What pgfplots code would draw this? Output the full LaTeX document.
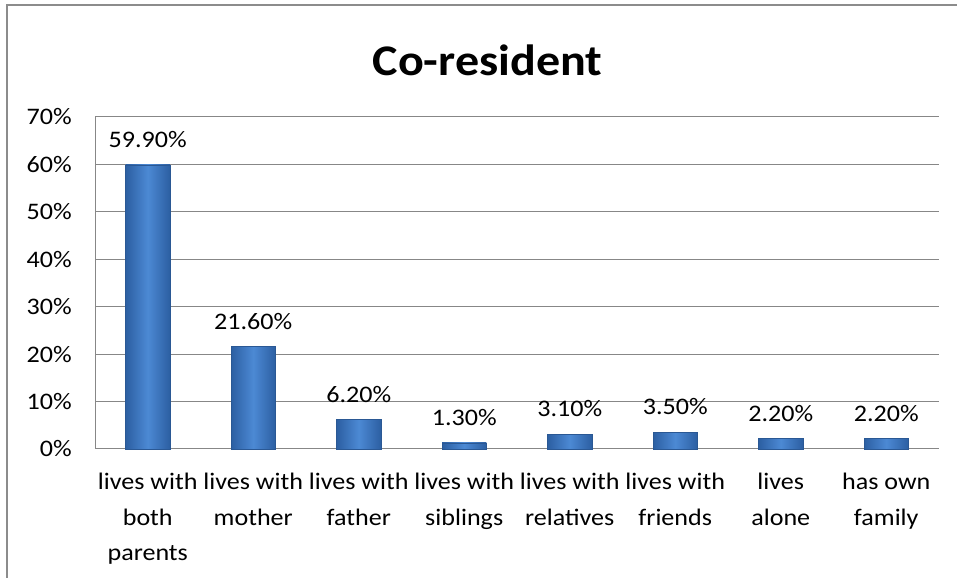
\documentclass[border=0pt]{standalone}
\usepackage{fontspec}
\setmainfont{Carlito}[FakeStretch=1.1]
\usepackage{pgfplots}
\pgfplotsset{compat=1.18}
\definecolor{gridgray}{HTML}{878787}
\definecolor{framegray}{HTML}{8C8C8C}
\definecolor{baredge}{HTML}{2A5894}
\definecolor{barmid}{HTML}{4C89D4}
\definecolor{bardark}{HTML}{2C5FA2}
\newcommand\lblfont{\fontsize{23.7bp}{35.5bp}\selectfont}
\pgfplotsset{
  mybar/.style={ybar, bar shift=0pt, bar width=0.42, draw=baredge, line width=0.6bp,
    left color=bardark, right color=bardark, middle color=barmid,
    nodes near coords={\pgfmathprintnumber[fixed,fixed zerofill,precision=2]{\pgfplotspointmeta}\%},
    nodes near coords style={font=\lblfont, text=black, anchor=south, inner sep=0pt, yshift=17bp}},
}
\begin{document}
\begin{tikzpicture}
\path[use as bounding box] (0,0) rectangle (957bp,578bp);
\draw[framegray, line width=2.2bp] (7bp,-5bp) -- (7bp,573bp) -- (965bp,573bp);
\node[anchor=base, font=\fontsize{43.7bp}{50bp}\selectfont\bfseries] at (487.5bp,502bp) {Co-resident};
\begin{axis}[
  at={(95bp,129bp)}, anchor=south west,
  scale only axis, width=844bp, height=332bp,
  xmin=-0.5, xmax=7.5, ymin=0, ymax=70,
  axis x line*=bottom, axis y line*=left,
  axis line style={gridgray, line width=1bp, -},
  ymajorgrids, grid style={gridgray, line width=1bp},
  major tick length=0,
  xtick={0,...,7},
  xticklabels={{lives with\\both\\parents},{lives with\\mother},{lives with\\father},{lives with\\siblings},{lives with\\relatives},{lives with\\friends},{lives\\alone},{has own\\family}},
  xticklabel style={font=\lblfont, align=center, anchor=north, inner sep=0pt, yshift=-24bp},
  ytick={0,10,20,30,40,50,60,70},
  yticklabels={0\%,10\%,20\%,30\%,40\%,50\%,60\%,70\%},
  yticklabel style={font=\lblfont, anchor=east, inner sep=0pt, xshift=-23bp},
  /pgf/number format/assume math mode=true,
  clip=false,
]
\addplot[mybar] coordinates {(0,59.9)};
\addplot[mybar] coordinates {(1,21.6)};
\addplot[mybar] coordinates {(2,6.2)};
\addplot[mybar] coordinates {(3,1.3)};
\addplot[mybar] coordinates {(4,3.1)};
\addplot[mybar] coordinates {(5,3.5)};
\addplot[mybar] coordinates {(6,2.2)};
\addplot[mybar] coordinates {(7,2.2)};
\end{axis}
\end{tikzpicture}
\end{document}
